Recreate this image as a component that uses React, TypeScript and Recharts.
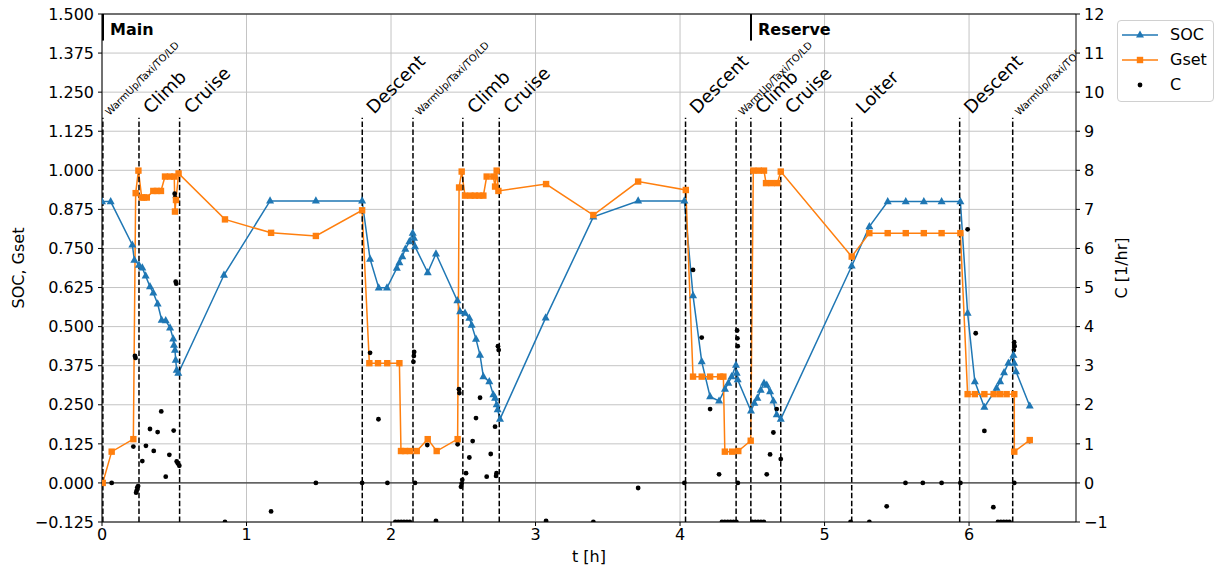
import React from 'react';
import { ComposedChart, Line, Scatter, XAxis, YAxis, CartesianGrid, ReferenceLine, Legend, Label } from 'recharts';

const socTimes = [0, 0.06, 0.21, 0.224, 0.256, 0.279, 0.302, 0.332, 0.355, 0.385, 0.413, 0.441, 0.471, 0.493, 0.498, 0.505, 0.51, 0.517, 0.528, 0.844, 1.163, 1.48, 1.8, 1.855, 1.915, 1.972, 2.04, 2.058, 2.078, 2.099, 2.127, 2.15, 2.159, 2.166, 2.254, 2.311, 2.459, 2.478, 2.512, 2.542, 2.558, 2.588, 2.616, 2.639, 2.68, 2.708, 2.72, 2.731, 2.738, 2.754, 3.07, 3.4, 3.71, 4.03, 4.09, 4.15, 4.208, 4.27, 4.311, 4.334, 4.357, 4.387, 4.392, 4.399, 4.491, 4.514, 4.535, 4.558, 4.581, 4.6, 4.623, 4.646, 4.669, 4.697, 5.188, 5.31, 5.437, 5.562, 5.687, 5.81, 5.94, 5.99, 6.04, 6.106, 6.19, 6.215, 6.242, 6.272, 6.307, 6.313, 6.325, 6.42];
const socValues = [0.9, 0.9, 0.761, 0.713, 0.697, 0.688, 0.662, 0.628, 0.608, 0.573, 0.521, 0.519, 0.496, 0.461, 0.441, 0.425, 0.393, 0.361, 0.351, 0.665, 0.902, 0.902, 0.902, 0.716, 0.624, 0.624, 0.687, 0.705, 0.724, 0.748, 0.772, 0.799, 0.783, 0.756, 0.673, 0.733, 0.583, 0.548, 0.543, 0.527, 0.505, 0.46, 0.409, 0.34, 0.324, 0.282, 0.271, 0.25, 0.234, 0.204, 0.528, 0.851, 0.902, 0.902, 0.599, 0.388, 0.276, 0.262, 0.3, 0.319, 0.34, 0.377, 0.351, 0.33, 0.23, 0.255, 0.271, 0.297, 0.319, 0.313, 0.292, 0.262, 0.218, 0.204, 0.694, 0.82, 0.9, 0.9, 0.9, 0.9, 0.9, 0.543, 0.324, 0.242, 0.303, 0.324, 0.353, 0.383, 0.409, 0.383, 0.356, 0.246];

const gsetTimes = [0.005, 0.067, 0.217, 0.233, 0.252, 0.275, 0.29, 0.31, 0.355, 0.38, 0.408, 0.436, 0.47, 0.5, 0.505, 0.512, 0.53, 0.851, 1.17, 1.48, 1.8, 1.85, 1.91, 1.974, 2.058, 2.069, 2.097, 2.131, 2.178, 2.254, 2.316, 2.461, 2.471, 2.489, 2.512, 2.55, 2.58, 2.611, 2.639, 2.662, 2.708, 2.72, 2.731, 2.743, 3.073, 3.4, 3.71, 4.04, 4.09, 4.15, 4.208, 4.277, 4.3, 4.31, 4.36, 4.403, 4.489, 4.507, 4.545, 4.581, 4.595, 4.634, 4.673, 4.697, 5.188, 5.31, 5.437, 5.562, 5.687, 5.81, 5.94, 5.99, 6.04, 6.106, 6.17, 6.215, 6.26, 6.313, 6.313, 6.42];
const gsetValues = [0, 0.1, 0.14, 0.927, 0.999, 0.913, 0.913, 0.913, 0.934, 0.934, 0.934, 0.98, 0.98, 0.98, 0.868, 0.905, 0.99, 0.843, 0.8, 0.79, 0.872, 0.383, 0.383, 0.383, 0.383, 0.102, 0.102, 0.102, 0.102, 0.14, 0.102, 0.14, 0.945, 0.996, 0.919, 0.919, 0.919, 0.919, 0.919, 0.98, 0.98, 0.948, 0.999, 0.934, 0.956, 0.857, 0.964, 0.937, 0.34, 0.34, 0.34, 0.34, 0.34, 0.1, 0.1, 0.102, 0.135, 0.999, 0.999, 0.999, 0.959, 0.959, 0.959, 0.996, 0.724, 0.799, 0.799, 0.799, 0.799, 0.799, 0.799, 0.284, 0.284, 0.284, 0.284, 0.284, 0.284, 0.284, 0.1, 0.137];

const cTimes = [0.005, 0.067, 0.217, 0.228, 0.232, 0.236, 0.24, 0.244, 0.25, 0.279, 0.304, 0.332, 0.358, 0.385, 0.41, 0.441, 0.466, 0.496, 0.503, 0.506, 0.51, 0.514, 0.517, 0.525, 0.535, 0.851, 1.17, 1.48, 1.8, 1.855, 1.913, 1.975, 2.03, 2.05, 2.07, 2.09, 2.11, 2.13, 2.155, 2.158, 2.16, 2.166, 2.251, 2.311, 2.461, 2.47, 2.473, 2.484, 2.489, 2.493, 2.519, 2.542, 2.565, 2.588, 2.616, 2.662, 2.69, 2.72, 2.727, 2.73, 2.74, 2.745, 3.073, 3.4, 3.71, 4.03, 4.09, 4.15, 4.208, 4.27, 4.29, 4.31, 4.33, 4.35, 4.37, 4.39, 4.395, 4.397, 4.399, 4.4, 4.489, 4.5, 4.52, 4.54, 4.56, 4.58, 4.6, 4.623, 4.646, 4.669, 4.697, 5.18, 5.31, 5.43, 5.56, 5.68, 5.81, 5.94, 5.99, 6.046, 6.106, 6.168, 6.2, 6.22, 6.24, 6.26, 6.28, 6.313, 6.31, 6.312, 6.315, 6.42];
const cValues = [0, 0, 0.93, 3.25, 3.2, -0.25, -0.2, -0.12, -0.08, 0.56, 0.95, 1.38, 0.82, 1.3, 1.83, 0.16, 0.72, 1.34, 7.4, 7.3, 5.15, 5.1, 0.55, 0.5, 0.44, -1, -0.73, 0, 0, 3.33, 1.63, 0, -1, -1, -1, -1, -1, -1, 3.1, 3.25, 3.35, 0, 0.97, -0.97, 0.99, 2.4, 2.3, -0.1, -0.02, 0.08, 0.25, 0.65, 1.07, 1.66, 2.18, 0.16, 0.74, 1.44, 0.18, 0.25, 3.5, 3.4, -0.97, -1, -0.13, 0, 5.45, 3.72, 1.89, 0.22, -1, -1, -1, -1, -1, -1, 3.9, 3.7, 3.5, 0, 1.08, -1, -1, -1, -1, -1, 0.22, 0.73, 1.29, 1.89, 0.61, -1, -1, -0.6, 0, 0, 0, 0, 6.49, 3.83, 1.33, -0.62, -1, -1, -1, -1, -1, 0, 3.4, 3.6, 3.5, 1.07];

const phaseTimes = [0.006, 0.256, 0.537, 1.801, 2.152, 2.497, 2.749, 4.038, 4.388, 4.49, 4.697, 5.188, 5.935, 6.302];
const phaseNames = ['WarmUp/Taxi/TO/LD', 'Climb', 'Cruise', 'Descent', 'WarmUp/Taxi/TO/LD', 'Climb', 'Cruise', 'Descent', 'WarmUp/Taxi/TO/LD', 'Climb', 'Cruise', 'Loiter', 'Descent', 'WarmUp/Taxi/TO/LD'];
const phaseTop = 1.168;

const segmentTimes = [0.007, 4.491];
const segmentNames = ['Main', 'Reserve'];
const segmentBottom = 1.415;
const segmentTextLevel = 1.452;

const xTicks = [0, 1, 2, 3, 4, 5, 6];
const leftTicks = [-0.125, 0, 0.125, 0.25, 0.375, 0.5, 0.625, 0.75, 0.875, 1.0, 1.125, 1.25, 1.375, 1.5];
const rightTicks = [-1, 0, 1, 2, 3, 4, 5, 6, 7, 8, 9, 10, 11, 12];

const BLUE = '#1f77b4';
const ORANGE = '#ff7f0e';
const FONT = 'DejaVu Sans';

const socData = socTimes.map((t, i) => ({ t, v: socValues[i] }));
const gsetData = gsetTimes.map((t, i) => ({ t, v: gsetValues[i] }));
const cData = cTimes.map((t, i) => ({ t, v: cValues[i] }));
const phaseData = phaseTimes.map((t, i) => ({ t, v: phaseTop, name: phaseNames[i] }));
const segmentData = segmentTimes.map((t, i) => ({ t, v: segmentTextLevel, name: segmentNames[i] }));

const minus = (s: string) => s.replace('-', '\u2212');

const tickStyle = { fill: '#000', fontSize: 16, fontFamily: FONT };

const triangle = (p: any) => {
  if (p.cx == null || p.cy == null) return <g key={`t${p.index}`} />;
  const { cx, cy } = p;
  return <path key={`t${p.index}`} d={`M${cx},${cy - 4.6}L${cx + 4},${cy + 2.6}L${cx - 4},${cy + 2.6}Z`} fill={BLUE} />;
};
const square = (p: any) => {
  if (p.cx == null || p.cy == null) return <g key={`s${p.index}`} />;
  return <rect key={`s${p.index}`} x={p.cx - 3.2} y={p.cy - 3.2} width={6.4} height={6.4} fill={ORANGE} />;
};
const dotShape = (p: any) => <circle cx={p.cx} cy={p.cy} r={2.4} fill="#000" />;

const phaseLabel = (p: any) => {
  const name = p.payload.name as string;
  const small = name.length > 10;
  const fs = small ? 10 : 18;
  const x = p.cx + 0.657 * fs;
  const y = p.cy - 0.17 * fs;
  return (
    <text x={x} y={y} fontSize={fs} fontFamily={FONT} fill="#000" transform={`rotate(-45 ${x} ${y})`}>
      {name}
    </text>
  );
};

const segmentLabel = (p: any) => (
  <text x={p.cx + 7} y={p.cy} fontSize={16} fontWeight="bold" fontFamily={FONT} fill="#000" dominantBaseline="central">
    {p.payload.name}
  </text>
);

const legendItems = [
  { name: 'SOC', kind: 'tri' },
  { name: 'Gset', kind: 'sq' },
  { name: 'C', kind: 'dot' },
];

const LegendBox = () => (
  <div style={{ width: 97, height: 82, border: '1px solid #d0d0d0', borderRadius: 4, background: '#fff', boxSizing: 'border-box', position: 'relative' }}>
    {legendItems.map((it, i) => (
      <div key={it.name} style={{ position: 'absolute', left: 0, top: 4 + i * 25, height: 20, display: 'flex', alignItems: 'center' }}>
        <svg width={52} height={20} style={{ display: 'block' }}>
          {it.kind !== 'dot' && (
            <line x1={4} y1={10} x2={40} y2={10} stroke={it.kind === 'tri' ? BLUE : ORANGE} strokeWidth={1.5} />
          )}
          {it.kind === 'tri' && <path d="M22,5.4L26,12.6L18,12.6Z" fill={BLUE} />}
          {it.kind === 'sq' && <rect x={18.8} y={6.8} width={6.4} height={6.4} fill={ORANGE} />}
          {it.kind === 'dot' && <circle cx={22} cy={10} r={2.4} fill="#000" />}
        </svg>
        <span style={{ fontFamily: FONT, fontSize: 16, color: '#000', lineHeight: '20px' }}>{it.name}</span>
      </div>
    ))}
  </div>
);

export default function App() {
  return (
    <div style={{ position: 'absolute', left: 0, top: 0, width: 1215, height: 567, background: '#fff' }}>
      <ComposedChart width={1215} height={567} margin={{ top: 14, right: 0, bottom: 0, left: 0 }} style={{ fontFamily: FONT }}>
        <CartesianGrid yAxisId="left" stroke="#c4c4c4" strokeWidth={1} horizontalValues={leftTicks} verticalValues={xTicks} />
        <XAxis
          dataKey="t"
          type="number"
          domain={[0, 6.74]}
          ticks={xTicks}
          allowDataOverflow
          height={45}
          tickSize={4}
          tickMargin={3}
          tick={tickStyle}
          stroke="#000"
          tickLine={{ stroke: '#000' }}
          axisLine={{ stroke: '#000' }}
        >
          <Label
            content={(p: any) => (
              <text x={p.viewBox.x + p.viewBox.width / 2} y={p.viewBox.y + 40} textAnchor="middle" fontSize={16} fontFamily={FONT} fill="#000">
                t [h]
              </text>
            )}
          />
        </XAxis>
        <YAxis
          yAxisId="left"
          type="number"
          domain={[-0.125, 1.5]}
          ticks={leftTicks}
          allowDataOverflow
          width={102}
          tickSize={4}
          tickMargin={4}
          tick={tickStyle}
          tickFormatter={(v: number) => minus(v.toFixed(3))}
          axisLine={{ stroke: '#000' }}
          tickLine={{ stroke: '#000' }}
        >
          <Label
            content={(p: any) => {
              const cy = p.viewBox.y + p.viewBox.height / 2;
              return (
                <text x={18} y={cy} textAnchor="middle" dominantBaseline="central" fontSize={16} fontFamily={FONT} fill="#000" transform={`rotate(-90 18 ${cy})`}>
                  SOC, Gset
                </text>
              );
            }}
          />
        </YAxis>
        <YAxis
          yAxisId="right"
          orientation="right"
          type="number"
          domain={[-1, 12]}
          ticks={rightTicks}
          allowDataOverflow
          width={139}
          tickSize={4}
          tickMargin={4}
          tick={tickStyle}
          tickFormatter={(v: number) => minus(String(v))}
          axisLine={{ stroke: '#000' }}
          tickLine={{ stroke: '#000' }}
        >
          <Label
            content={(p: any) => {
              const cy = p.viewBox.y + p.viewBox.height / 2;
              const cx = p.viewBox.x + 45;
              return (
                <text x={cx} y={cy} textAnchor="middle" dominantBaseline="central" fontSize={16} fontFamily={FONT} fill="#000" transform={`rotate(-90 ${cx} ${cy})`}>
                  C [1/hr]
                </text>
              );
            }}
          />
        </YAxis>
        <ReferenceLine yAxisId="left" y={0} stroke="#3a3a3a" strokeWidth={1.3} />
        <ReferenceLine yAxisId="left" y={1.5} stroke="#000" strokeWidth={1} />
        <Line yAxisId="left" data={socData} dataKey="v" type="linear" stroke={BLUE} strokeWidth={1.5} dot={triangle} activeDot={false} isAnimationActive={false} name="SOC" />
        <Line yAxisId="left" data={gsetData} dataKey="v" type="linear" stroke={ORANGE} strokeWidth={1.5} dot={square} activeDot={false} isAnimationActive={false} name="Gset" />
        <Scatter yAxisId="right" data={cData} dataKey="v" shape={dotShape} isAnimationActive={false} name="C" />
        {phaseTimes.map((t) => (
          <ReferenceLine
            key={`ph${t}`}
            yAxisId="left"
            segment={[{ x: t, y: -0.125 }, { x: t, y: phaseTop }]}
            stroke="#000"
            strokeWidth={1.5}
            strokeDasharray="5.5 2.4"
          />
        ))}
        {segmentTimes.map((t) => (
          <ReferenceLine key={`sg${t}`} yAxisId="left" segment={[{ x: t, y: segmentBottom }, { x: t, y: 1.5 }]} stroke="#000" strokeWidth={2} />
        ))}
        <Scatter yAxisId="left" data={phaseData} dataKey="v" shape={phaseLabel} isAnimationActive={false} legendType="none" name="phases" />
        <Scatter yAxisId="left" data={segmentData} dataKey="v" shape={segmentLabel} isAnimationActive={false} legendType="none" name="segments" />
        <Legend
          layout="horizontal"
          verticalAlign="middle"
          align="center"
          content={() => <LegendBox />}
          wrapperStyle={{ left: 1117, top: 20, width: 97, height: 82 }}
        />
      </ComposedChart>
    </div>
  );
}
